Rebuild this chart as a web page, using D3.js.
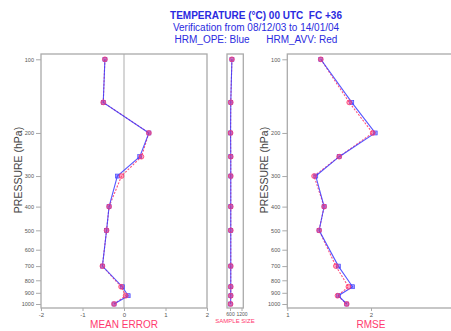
<!DOCTYPE html>
<html><head><meta charset="utf-8">
<script src="https://cdn.jsdelivr.net/npm/d3@7"></script>
<style>html,body{margin:0;padding:0;background:#fff;}svg{display:block;}</style>
</head><body>
<script>
const levels = [100,150,200,250,300,400,500,700,850,925,1000];
const meanErrOpe = [-0.46,-0.50,0.60,0.38,-0.16,-0.36,-0.42,-0.52,-0.04,0.10,-0.24];
const meanErrAvv = [-0.46,-0.50,0.60,0.42,-0.06,-0.36,-0.42,-0.52,-0.07,0.04,-0.24];
const rmseOpe = [1.40,1.77,2.05,1.62,1.34,1.44,1.38,1.61,1.78,1.61,1.71];
const rmseAvv = [1.40,1.74,2.02,1.62,1.32,1.44,1.38,1.58,1.73,1.60,1.71];
const sampleOpe = [700,640,630,640,640,640,640,640,640,640,630];
const sampleAvv = [700,640,630,640,640,640,640,640,640,640,630];
const pressureTicks = [100,200,300,400,500,600,700,800,900,1000];
const meTicks = [-2,-1,0,1,2];
const sampleTicks = [600,1200];
const rmseTicks = [1,2];
const titleLines = ["TEMPERATURE (°C) 00 UTC  FC +36","Verification from 08/12/03 to 14/01/04","HRM_OPE: Blue      HRM_AVV: Red"];

(function(){
const W=451,H=331;
const svg=d3.select("body").append("svg").attr("width",W).attr("height",H);
const FONT="Liberation Sans, Arial, sans-serif";
const blue="#3a3aff", red="#ff3a6e", gray="#aaaaaa", txtGray="#555";

const y=d3.scaleLog().domain([100,1000]).range([59.3,304]);
const yTop=54,yBot=308;

const tY=[18.5,30.5,42.5];
titleLines.forEach((t,i)=>{
  svg.append("text").attr("x",256).attr("y",tY[i]).attr("text-anchor","middle")
    .attr("font-family",FONT).attr("font-size",10).attr("font-weight",i==0?"bold":"normal")
    .attr("fill","#2a2ae0").style("white-space","pre").text(t);
});

function panel(x0,x1,xScale,ticks,opts){
  const g=svg.append("g");
  if(opts.zero!==undefined){
    g.append("line").attr("x1",xScale(opts.zero)).attr("x2",xScale(opts.zero)).attr("y1",yTop).attr("y2",yBot)
      .attr("stroke","#bbb").attr("stroke-width",1.2);
  }
  g.append("rect").attr("x",x0).attr("y",yTop).attr("width",x1-x0).attr("height",yBot-yTop)
    .attr("fill","none").attr("stroke",gray).attr("stroke-width",1.3);
  const xa=d3.axisBottom(xScale).tickValues(ticks).tickSize(3).tickPadding(2).tickFormat(d=>d);
  const gx=g.append("g").attr("transform",`translate(0,${yBot})`).call(xa);
  gx.select(".domain").remove();
  gx.selectAll("line").attr("stroke",gray);
  gx.selectAll("text").attr("font-family",FONT).attr("font-size",opts.tfs||6).attr("fill",txtGray).attr("dy","0.6em");
  if(opts.yaxis){
    const ya=d3.axisLeft(y).tickValues(pressureTicks).tickSize(5).tickPadding(2).tickFormat(d=>d);
    const gy=g.append("g").attr("transform",`translate(${x0},0)`).call(ya);
    gy.select(".domain").remove();
    gy.selectAll("line").attr("stroke",gray);
    gy.selectAll("text").attr("font-family",FONT).attr("font-size",5.5).attr("fill",txtGray);
    g.append("text").attr("transform",`translate(${x0-19},${170}) rotate(-90)`).attr("text-anchor","middle")
      .attr("font-family",FONT).attr("font-size",10.5).attr("fill","#444").text("PRESSURE (hPa)");
  }
  g.append("text").attr("x",(opts.labelX!==undefined?opts.labelX:(x0+x1)/2)).attr("y",opts.labelY||328).attr("text-anchor","middle")
    .attr("font-family",FONT).attr("font-size",opts.lfs||10).attr("fill",red).text(opts.label);
  const clipId="c"+Math.round(x0);
  g.append("clipPath").attr("id",clipId).append("rect").attr("x",x0-6).attr("y",yTop-6).attr("width",x1-x0+12).attr("height",yBot-yTop+12);
  const pg=g.append("g").attr("clip-path",`url(#${clipId})`);
  const line=(vals)=>d3.line().x((d,i)=>xScale(vals[i])).y(d=>y(d))(levels);
  pg.append("path").attr("d",line(opts.avv)).attr("fill","none").attr("stroke",red).attr("stroke-width",1.1).attr("stroke-dasharray","2,1.5").attr("opacity",0.9);
  pg.append("path").attr("d",line(opts.ope)).attr("fill","none").attr("stroke",blue).attr("stroke-width",1.1).attr("opacity",0.85);
  pg.selectAll(".sq").data(levels).enter().append("rect")
    .attr("x",(d,i)=>xScale(opts.ope[i])-2).attr("y",d=>y(d)-2).attr("width",4).attr("height",4)
    .attr("fill",blue).attr("fill-opacity",0.5).attr("stroke",blue).attr("stroke-width",0.6);
  pg.selectAll(".ci").data(levels).enter().append("circle")
    .attr("cx",(d,i)=>xScale(opts.avv[i])).attr("cy",d=>y(d)).attr("r",2.4)
    .attr("fill",red).attr("fill-opacity",0.45).attr("stroke",red).attr("stroke-width",0.8);
}

const xME=d3.scaleLinear().domain([-2,2]).range([41,207]);
panel(41,207,xME,meTicks,{yaxis:true,zero:0,label:"MEAN ERROR",ope:meanErrOpe,avv:meanErrAvv});

const xS=d3.scaleLinear().domain([600,1200]).range([230,241.5]);
panel(227,243.3,xS,sampleTicks,{label:"SAMPLE SIZE",lfs:6,tfs:5,labelY:323,labelX:235,ope:sampleOpe,avv:sampleAvv});

const xR=d3.scaleLinear().domain([1,2]).range([287.3,371]);
panel(287.3,454.7,xR,rmseTicks,{yaxis:true,label:"RMSE",labelX:371,ope:rmseOpe,avv:rmseAvv});
})();
</script>
</body></html>
